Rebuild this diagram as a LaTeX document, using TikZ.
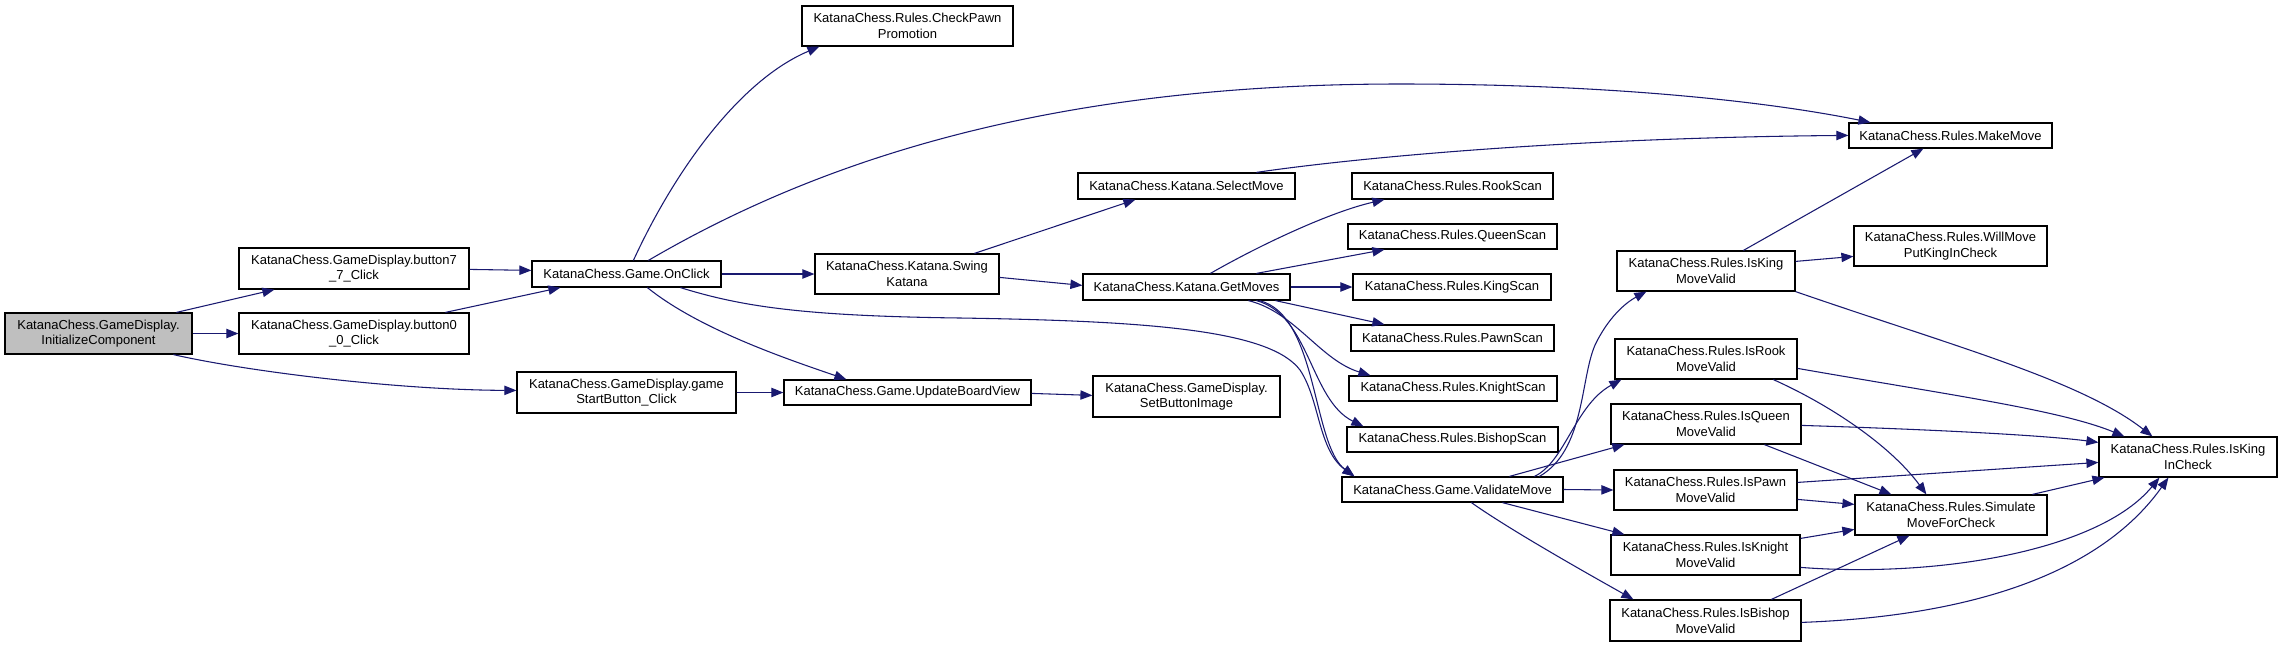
\documentclass[tikz,border=0pt]{standalone}
\usepackage{fontspec}
\setmainfont{Liberation Sans}
\usetikzlibrary{arrows.meta,calc}
\definecolor{edgeblue}{HTML}{191970}
\definecolor{rootgrey}{HTML}{BFBFBF}
\begin{document}
\begin{tikzpicture}[x=0.75pt,y=-0.75pt,
  fn/.style 2 args={draw=black, line width=0.9pt, fill=white, inner sep=0pt, align=center,
     font=\fontsize{9.75}{11.8}\selectfont, minimum width=#1*0.75pt, minimum height=#2*0.75pt},
  ed/.style={draw=edgeblue, line width=0.8pt, -{Triangle[length=9pt,width=7pt]}}]
\fill[white] (0,0) rectangle (2283,647);
\useasboundingbox (0,0) rectangle (2283,647);

\node[fn={187}{41}, fill=rootgrey] (init) at (98.5,333.5) {KatanaChess.GameDisplay.\\InitializeComponent};
\node[fn={230}{41}] (btn7) at (354,268.5) {KatanaChess.GameDisplay.button7\\\_7\_Click};
\node[fn={230}{41}] (btn0) at (354,333.5) {KatanaChess.GameDisplay.button0\\\_0\_Click};
\node[fn={219}{41}] (gstart) at (626.5,392.5) {KatanaChess.GameDisplay.game\\StartButton\_Click};
\node[fn={189}{26}] (onclick) at (626.5,274) {KatanaChess.Game.OnClick};
\node[fn={211}{40}] (checkpawn) at (907.5,26) {KatanaChess.Rules.CheckPawn\\Promotion};
\node[fn={184}{40}] (swing) at (907,274) {KatanaChess.Katana.Swing\\Katana};
\node[fn={247}{25}] (ubv) at (907.5,392.5) {KatanaChess.Game.UpdateBoardView};
\node[fn={187}{41}] (setbtn) at (1186.5,396.5) {KatanaChess.GameDisplay.\\SetButtonImage};
\node[fn={217}{26}] (selectmove) at (1186.5,186) {KatanaChess.Katana.SelectMove};
\node[fn={207}{26}] (getmoves) at (1186.5,287) {KatanaChess.Katana.GetMoves};
\node[fn={201}{26}] (rookscan) at (1452.5,186) {KatanaChess.Rules.RookScan};
\node[fn={209}{25}] (queenscan) at (1452.5,236.5) {KatanaChess.Rules.QueenScan};
\node[fn={198}{26}] (kingscan) at (1452,287) {KatanaChess.Rules.KingScan};
\node[fn={203}{26}] (pawnscan) at (1452.5,338) {KatanaChess.Rules.PawnScan};
\node[fn={208}{25}] (knightscan) at (1453,388.5) {KatanaChess.Rules.KnightScan};
\node[fn={211}{25}] (bishopscan) at (1452.5,439.5) {KatanaChess.Rules.BishopScan};
\node[fn={221}{25}] (validate) at (1452.5,489.5) {KatanaChess.Game.ValidateMove};
\node[fn={203}{25}] (makemove) at (1950.5,135.5) {KatanaChess.Rules.MakeMove};
\node[fn={193}{40}] (willmove) at (1950.5,246) {KatanaChess.Rules.WillMove\\PutKingInCheck};
\node[fn={178}{40}] (iskingmv) at (1706,271) {KatanaChess.Rules.IsKing\\MoveValid};
\node[fn={182}{40}] (isrook) at (1706,359) {KatanaChess.Rules.IsRook\\MoveValid};
\node[fn={190}{40}] (isqueen) at (1706,424) {KatanaChess.Rules.IsQueen\\MoveValid};
\node[fn={183}{40}] (ispawn) at (1705.5,490) {KatanaChess.Rules.IsPawn\\MoveValid};
\node[fn={189}{40}] (isknight) at (1705.5,555) {KatanaChess.Rules.IsKnight\\MoveValid};
\node[fn={191}{41}] (isbishop) at (1705.5,620.5) {KatanaChess.Rules.IsBishop\\MoveValid};
\node[fn={192}{40}] (simulate) at (1951,515) {KatanaChess.Rules.Simulate\\MoveForCheck};
\node[fn={178}{40}] (ischeck) at (2188,457) {KatanaChess.Rules.IsKing\\InCheck};

\draw[ed] ($(init.north west)+(172,0)$) -- ($(btn7.south west)+(36,0)$);
\draw[ed] (init.east) -- (btn0.west);
\draw[ed] ($(init.south west)+(169,0)$) .. controls (250,372) and (400,390) .. ($(gstart.north west)+(0,19)$);
\draw[ed] ($(btn7.north east)+(0,22)$) -- ($(onclick.north west)+(0,10)$);
\draw[ed] ($(btn0.north west)+(207,0)$) -- ($(onclick.south west)+(29,0)$);
\draw[ed] (gstart.east) -- (ubv.west);
\draw[ed] ($(onclick.north west)+(102,0)$) .. controls (675,170) and (740,80) .. ($(checkpawn.south west)+(18,0)$);
\draw[ed] ($(onclick.north west)+(117,0)$) .. controls (820,160) and (1050,84) .. (1400,84) .. controls (1600,84) and (1760,100) .. ($(makemove.north west)+(22,0)$);
\draw[ed] (onclick.east) -- (swing.west);
\draw[ed] ($(onclick.south west)+(116,0)$) .. controls (700,330) and (790,360) .. ($(ubv.north west)+(63,0)$);
\draw[ed] ($(onclick.south west)+(149,0)$) .. controls (740,306) and (800,316) .. (960,318) .. controls (1150,321) and (1270,330) .. (1300,370) .. controls (1320,400) and (1318,450) .. ($(validate.north west)+(13,0)$);
\draw[ed] ($(swing.north west)+(160,0)$) -- ($(selectmove.south west)+(58,0)$);
\draw[ed] ($(swing.north east)+(0,24)$) -- ($(getmoves.north west)+(0,12)$);
\draw[ed] ($(selectmove.north west)+(179,0)$) .. controls (1340,160) and (1550,138) .. ($(makemove.north west)+(0,13)$);
\draw[ed] ($(ubv.north east)+(0,14)$) -- ($(setbtn.north west)+(0,20)$);
\draw[ed] ($(getmoves.north west)+(128,0)$) .. controls (1260,245) and (1330,212) .. ($(rookscan.south west)+(33,0)$);
\draw[ed] ($(getmoves.north west)+(174,0)$) -- ($(queenscan.south west)+(37,0)$);
\draw[ed] (getmoves.east) -- (kingscan.west);
\draw[ed] ($(getmoves.south west)+(193,0)$) -- ($(pawnscan.north west)+(34,0)$);
\draw[ed] ($(getmoves.south west)+(166,0)$) .. controls (1295,312) and (1320,360) .. ($(knightscan.north west)+(22,0)$);
\draw[ed] ($(getmoves.south west)+(174,0)$) .. controls (1310,315) and (1310,400) .. ($(bishopscan.north west)+(17,0)$);
\draw[ed] ($(getmoves.south west)+(177,0)$) .. controls (1318,315) and (1312,445) .. ($(validate.north west)+(13,0)$);
\draw[ed] ($(validate.north west)+(198,0)$) .. controls (1585,450) and (1580,380) .. (1595,345) .. controls (1608,318) and (1625,303) .. ($(iskingmv.south west)+(30,0)$);
\draw[ed] ($(validate.north west)+(193,0)$) .. controls (1565,462) and (1575,405) .. ($(isrook.south west)+(7,0)$);
\draw[ed] ($(validate.north west)+(168,0)$) -- ($(isqueen.south west)+(14,0)$);
\draw[ed] (validate.east) -- (ispawn.west);
\draw[ed] ($(validate.south west)+(161,0)$) -- ($(isknight.north west)+(14,0)$);
\draw[ed] ($(validate.south west)+(130,0)$) .. controls (1510,530) and (1590,575) .. ($(isbishop.north west)+(24,0)$);
\draw[ed] ($(iskingmv.north west)+(127,0)$) -- ($(makemove.south west)+(75,0)$);
\draw[ed] ($(iskingmv.north east)+(0,11)$) -- ($(willmove.north west)+(0,31)$);
\draw[ed] (iskingmv.south east) .. controls (1950,345) and (2080,380) .. ($(ischeck.north west)+(54,0)$);
\draw[ed] ($(isrook.north east)+(0,30)$) .. controls (1950,395) and (2060,410) .. ($(ischeck.north west)+(26,0)$);
\draw[ed] ($(isrook.south west)+(159,0)$) .. controls (1830,405) and (1890,445) .. ($(simulate.north west)+(72,0)$);
\draw[ed] ($(isqueen.north east)+(0,22)$) .. controls (1950,430) and (2050,436) .. ($(ischeck.north west)+(0,6)$);
\draw[ed] ($(isqueen.south west)+(154,0)$) -- ($(simulate.north west)+(37,0)$);
\draw[ed] ($(ispawn.north east)+(0,13)$) -- ($(ischeck.north west)+(0,26)$);
\draw[ed] ($(ispawn.north east)+(0,30)$) -- ($(simulate.north west)+(0,10)$);
\draw[ed] ($(isknight.north east)+(0,4)$) -- ($(simulate.north west)+(0,35)$);
\draw[ed] ($(isknight.north east)+(0,33)$) .. controls (1940,578) and (2100,550) .. ($(ischeck.south west)+(61,0)$);
\draw[ed] ($(isbishop.north west)+(162,0)$) -- ($(simulate.south west)+(55,0)$);
\draw[ed] ($(isbishop.north east)+(0,23)$) .. controls (2000,615) and (2110,560) .. ($(ischeck.south west)+(70,0)$);
\draw[ed] ($(simulate.north west)+(178,0)$) -- ($(ischeck.south west)+(6,0)$);
\end{tikzpicture}
\end{document}
